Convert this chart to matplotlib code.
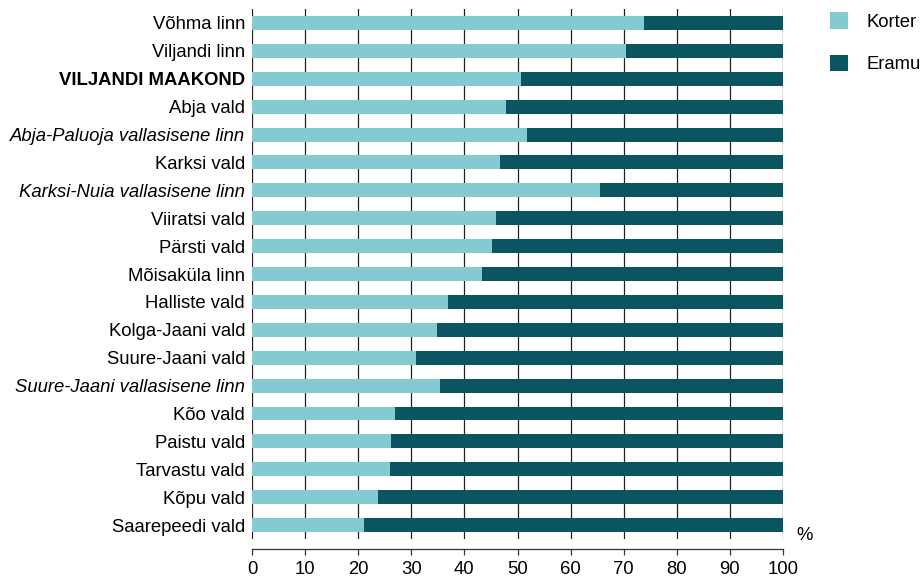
import matplotlib
matplotlib.use("Agg")
import matplotlib.pyplot as plt
import numpy as np

plt.rcParams['font.family'] = ['Liberation Sans', 'DejaVu Sans']

regions = ["Võhma linn", "Viljandi linn", "VILJANDI MAAKOND", "Abja vald",
           "Abja-Paluoja vallasisene linn", "Karksi vald",
           "Karksi-Nuia vallasisene linn", "Viiratsi vald", "Pärsti vald",
           "Mõisaküla linn", "Halliste vald", "Kolga-Jaani vald",
           "Suure-Jaani vald", "Suure-Jaani vallasisene linn", "Kõo vald",
           "Paistu vald", "Tarvastu vald", "Kõpu vald", "Saarepeedi vald"]
korter = [73.9, 70.4, 50.6, 47.9, 51.7, 46.7, 65.5, 46.0, 45.2, 43.3,
          36.9, 34.8, 30.9, 35.4, 26.9, 26.2, 26.0, 23.7, 21.1]
eramu = [100 - k for k in korter]
bold_rows = ["VILJANDI MAAKOND"]
italic_rows = ["Abja-Paluoja vallasisene linn", "Karksi-Nuia vallasisene linn",
               "Suure-Jaani vallasisene linn"]

light = '#86cad1'
dark = '#0b5461'
fs = 13.3

fig = plt.figure(figsize=(9.22, 5.79), dpi=100)
ax = fig.add_axes([252/922, 1 - 539/579, 531/922, 530/579])

y = np.arange(len(regions))
b1 = ax.barh(y, korter, height=0.5, color=light, label='Korter', zorder=3)
b2 = ax.barh(y, eramu, left=korter, height=0.5, color=dark, label='Eramu', zorder=3)

ax.set_ylim(len(regions) - 0.5, -0.5)
ax.set_xlim(0, 100)
ax.set_xticks(np.arange(0, 101, 10))
ax.set_yticks(y)
ax.set_yticklabels(regions)
for lab in ax.get_yticklabels():
    if lab.get_text() in bold_rows:
        lab.set_fontweight('bold')
    if lab.get_text() in italic_rows:
        lab.set_fontstyle('italic')

ax.grid(axis='x', color='#222222', linewidth=0.9, zorder=0)
ax.set_axisbelow(True)
for s in ['left', 'top', 'right']:
    ax.spines[s].set_visible(False)
ax.spines['bottom'].set_position(('outward', 7))
ax.spines['bottom'].set_color('#333333')
ax.spines['bottom'].set_linewidth(0.9)
ax.tick_params(axis='y', length=0, pad=5, labelsize=fs)
ax.tick_params(axis='x', direction='out', length=4, width=0.9, color='#333333',
               pad=4.5, labelsize=fs)

fig.text(805/922, 1 - 535/579, '%', fontsize=fs, ha='center', va='center')

fig.legend(handles=[b1, b2], loc='upper left',
           bbox_to_anchor=(830/922, 1 - 12/579), frameon=False, fontsize=fs,
           handlelength=1.0, handleheight=1.0, handletextpad=0.95,
           labelspacing=1.3, borderpad=0, borderaxespad=0)

plt.savefig('out.png', dpi=100)
